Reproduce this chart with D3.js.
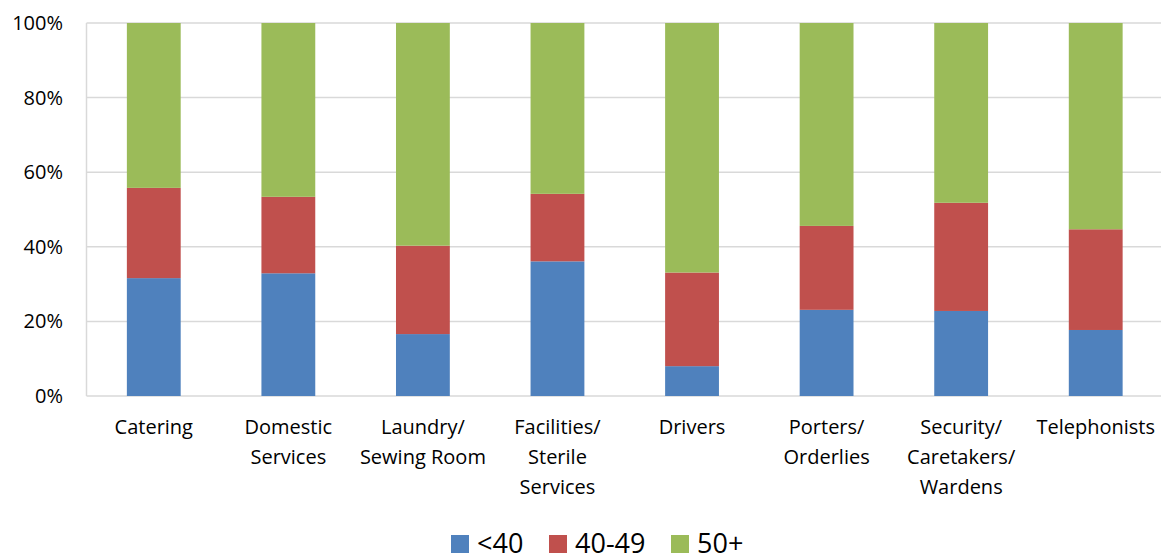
<!DOCTYPE html>
<html>
<head>
<meta charset="utf-8">
<script src="https://cdn.jsdelivr.net/npm/d3@7"></script>
<style>
  body { margin: 0; background: #fff; }
  text { font-family: "Open Sans", sans-serif; fill: #000; }
</style>
</head>
<body>
<svg id="chart" width="1161" height="553"></svg>
<script>
// categories (multi-line labels split with |)
const categories = ["Catering", "Domestic|Services", "Laundry/|Sewing Room", "Facilities/|Sterile|Services",
  "Drivers", "Porters/|Orderlies", "Security/|Caretakers/|Wardens", "Telephonists"];
const under40 = [31.6, 32.9, 16.6, 36.1, 8.0, 23.1, 22.8, 17.7];
const age40to49 = [24.2, 20.5, 23.7, 18.1, 25.1, 22.5, 29.0, 27.0];
const over50 = under40.map((v, i) => 100 - v - age40to49[i]);
const seriesNames = ["<40", "40-49", "50+"];
const yTicks = [0, 20, 40, 60, 80, 100];

const BLUE = "#4f81bd", RED = "#c0504d", GREEN = "#9bbb59";
const colors = [BLUE, RED, GREEN];

const svg = d3.select("#chart");
const plotL = 86.5, plotR = 1163, plotT = 23, plotB = 396;

const rows = categories.map((c, i) => ({ cat: c, a: under40[i], b: age40to49[i], c: over50[i] }));
const stack = d3.stack().keys(["a", "b", "c"])(rows);

const x = d3.scaleBand().domain(categories).range([plotL, plotR]).paddingInner(0.6).paddingOuter(0.3);
const y = d3.scaleLinear().domain([0, 100]).range([plotB, plotT]);

// gridlines
svg.append("g").selectAll("line").data(yTicks).join("line")
  .attr("x1", plotL).attr("x2", 1161)
  .attr("y1", d => y(d)).attr("y2", d => y(d))
  .attr("stroke", "#d9d9d9").attr("stroke-width", 1.5);
svg.append("line").attr("x1", plotL).attr("x2", plotL).attr("y1", plotT).attr("y2", plotB)
  .attr("stroke", "#d9d9d9").attr("stroke-width", 1.5);

// y labels
svg.append("g").selectAll("text").data(yTicks).join("text")
  .attr("x", 63).attr("y", d => y(d) + 7)
  .attr("text-anchor", "end").style("font-size", "20px")
  .text(d => d + "%");

// bars
svg.append("g").selectAll("g").data(stack).join("g")
  .attr("fill", (d, i) => colors[i])
  .selectAll("rect").data(d => d).join("rect")
  .attr("x", d => x(d.data.cat))
  .attr("width", x.bandwidth())
  .attr("y", d => y(d[1]))
  .attr("height", d => y(d[0]) - y(d[1]));

// category labels
const lab = svg.append("g").selectAll("text").data(categories).join("text")
  .attr("text-anchor", "middle").style("font-size", "20px")
  .attr("x", d => x(d) + x.bandwidth() / 2);
lab.each(function (d) {
  const t = d3.select(this);
  d.split("|").forEach((line, k) => {
    t.append("tspan").attr("x", x(d) + x.bandwidth() / 2).attr("y", 434 + k * 30).text(line);
  });
});

// legend
const legX = [451, 549, 671];
const leg = svg.append("g").selectAll("g").data(seriesNames).join("g")
  .attr("transform", (d, i) => `translate(${legX[i]},535)`);
leg.append("rect").attr("width", 18).attr("height", 18).attr("fill", (d, i) => colors[i]);
leg.append("text").attr("x", 26).attr("y", 18).style("font-size", "27px").text(d => d);
</script>
</body>
</html>
